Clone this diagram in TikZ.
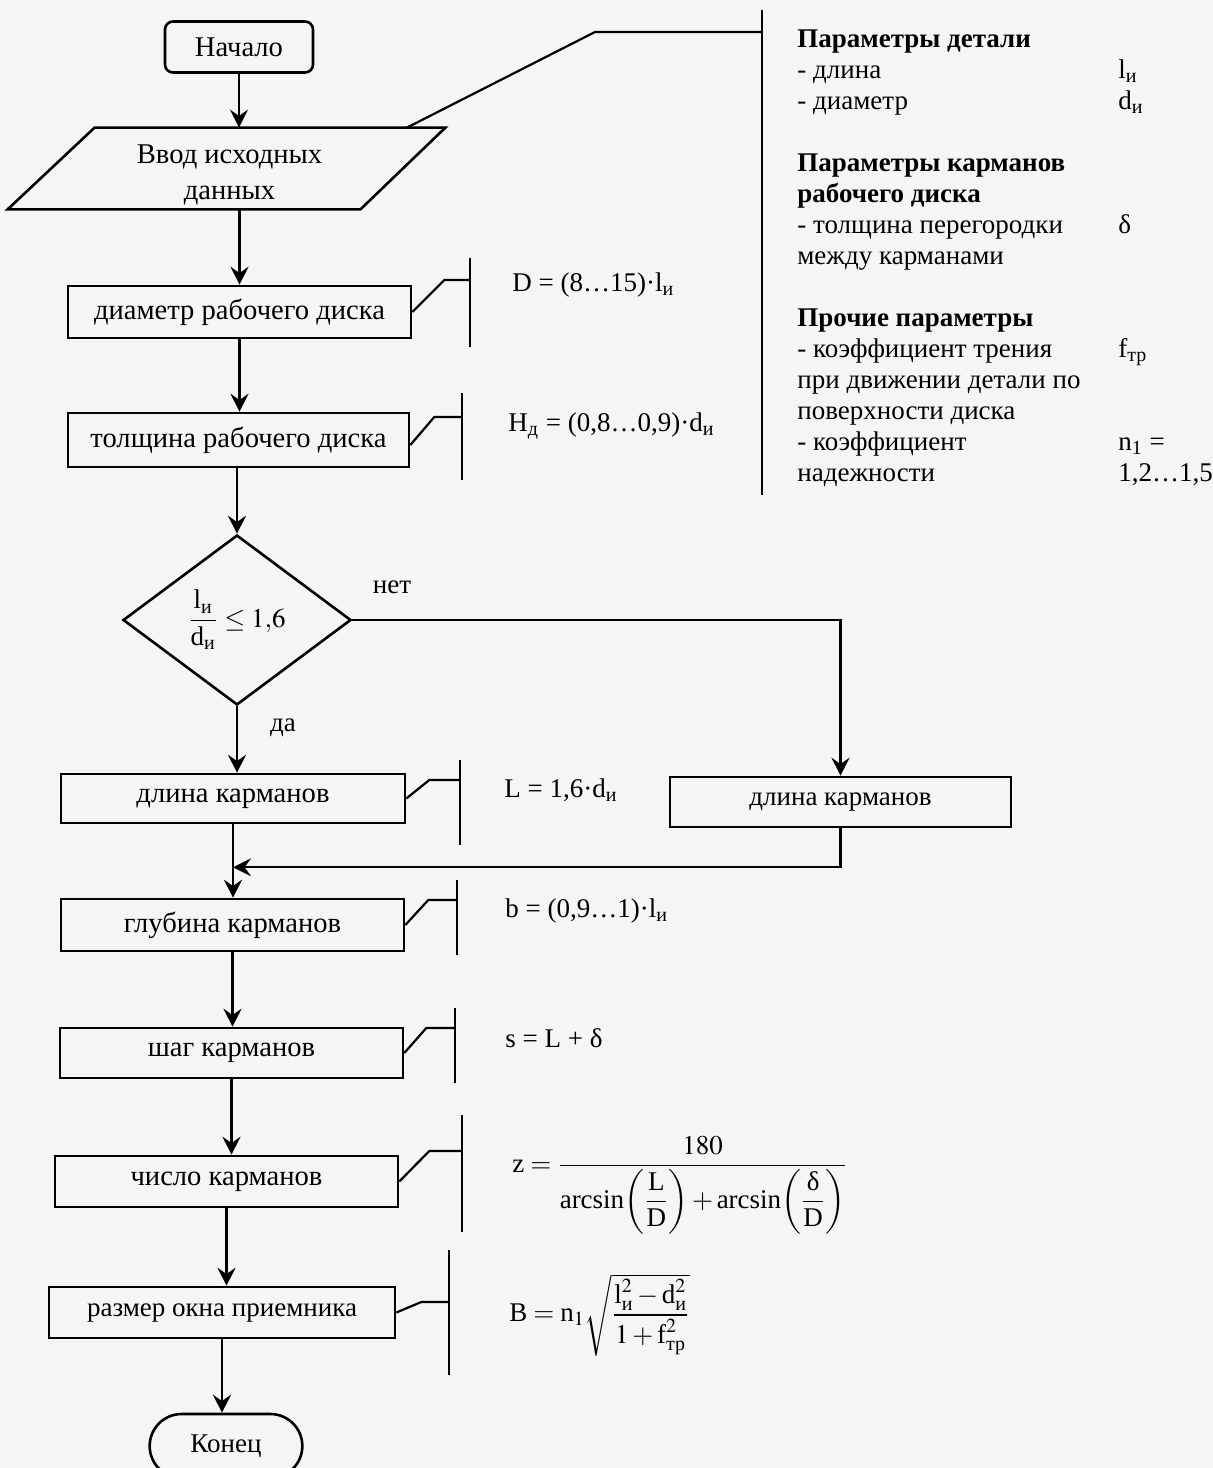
\documentclass[tikz,border=0pt]{standalone}
\usepackage{amsmath}
\usepackage{mathptmx}
\usepackage[no-math]{fontspec}
\setmainfont{Liberation Serif}
\usetikzlibrary{arrows.meta,shapes.geometric,shapes.misc,calc}

\newcommand{\lo}[1]{\textsubscript{#1}}
\newcommand{\bodysize}{\fontsize{13.5}{15.5}\selectfont}
\newcommand{\boxsize}{\fontsize{14.3}{16.5}\selectfont}

\tikzset{
  flow/.style={line width=1.1pt},
  arr/.style={flow,-{Stealth[length=9pt,width=9pt,inset=3.2pt]}},
  proc/.style={draw,line width=1.3pt,rectangle,inner sep=0pt,font=\boxsize},
  lbl/.style={inner sep=0pt},
  note/.style={line width=1.1pt},
  formula/.style={anchor=west,inner sep=0pt},
}

\begin{document}
\begin{tikzpicture}[x=0.5pt,y=-0.5pt,every node/.style={font=\bodysize}]
\fill[black!4] (0,0) rectangle (1213,1468);
\useasboundingbox (0,0) rectangle (1213,1468);

% --- main flow column ---
\node[draw,rounded corners=4pt,line width=1.3pt,minimum width=74pt,minimum height=25.5pt,font=\boxsize] (start) at (239,47) {Начало};

\node[lbl,minimum width=135pt,minimum height=40.5pt] (input) at (226.5,168.5) {};
\draw[line width=1.3pt] ($(input.north west)+(3.5,0)$) -- ($(input.north east)+(83.5,0)$)
  -- ($(input.south east)+(-1.5,0)$) -- ($(input.south west)+(-83.5,0)$) -- cycle;
\node[lbl,align=center,font=\boxsize] (inputText) at ($(input.center)+(3,6)$) {Ввод исходных\\[1.5pt]данных};

\node[proc,minimum width=171.5pt,minimum height=26pt] (dia) at (239.5,312) {диаметр рабочего диска};
\node[proc,minimum width=170.5pt,minimum height=27pt] (thick) at (238.5,440) {толщина рабочего диска};

\node[draw,diamond,line width=1.3pt,inner sep=0pt,minimum width=114pt,minimum height=85pt] (dec) at (237,620)
  {$\dfrac{\text{l}_\text{и}}{\text{d}_\text{и}}\le 1{,}6$};

\node[proc,minimum width=172pt,minimum height=24.5pt] (len) at (233,798.5) {длина карманов};
\node[proc,minimum width=170.5pt,minimum height=25pt,font=\bodysize] (lenR) at (840.5,802) {длина карманов};
\node[proc,minimum width=171.5pt,minimum height=26pt] (depth) at (232.5,925) {глубина карманов};
\node[proc,minimum width=171.5pt,minimum height=25pt] (pitch) at (231.5,1053) {шаг карманов};
\node[proc,minimum width=171.5pt,minimum height=25.5pt] (num) at (226.5,1181.5) {число карманов};
\node[proc,minimum width=173pt,minimum height=25.5pt,font=\bodysize] (win) at (222,1312.5) {размер окна приемника};
\node[draw,rounded rectangle,line width=1.3pt,minimum width=83pt,minimum height=32pt,font=\bodysize] (stop) at (226,1446) {Конец};

\node[lbl] (yes) at (283,728) {да};
\node[lbl] (no) at (392,587) {нет};

% --- connectors ---
\draw[arr] (start.south) -- (start.south |- input.north);
\draw[arr] (dia.north |- input.south) -- (dia.north);
\draw[arr] (dia.south) -- (dia.south |- thick.north);
\draw[arr] (dec.north |- thick.south) -- (dec.north);
\draw[arr] (dec.south) -- (dec.south |- len.north);
\draw[arr] (dec.east) -| (lenR.north);
\coordinate (merge) at ($(len.south)+(0,43)$);
\draw[arr] (lenR.south) |- (merge);
\draw[arr] (len.south) -- (len.south |- depth.north);
\draw[arr] (depth.south) -- (depth.south |- pitch.north);
\draw[arr] (pitch.south) -- (pitch.south |- num.north);
\draw[arr] (num.south) -- (num.south |- win.north);
\draw[arr] (win.south) -- (win.south |- stop.north);

% --- comment brackets ---
\coordinate (inT) at (762,10);   \coordinate (inB) at (762,495);
\draw[note] (inT) -- (inB);
\draw[note] ($(input.north)+(180.5,0)$) -- (595,32) -- (inT |- 0,32);

\coordinate (diaT) at (470,258); \coordinate (diaB) at (470,347);
\draw[note] (diaT) -- (diaB);
\draw[note] (dia.east) -- ++(32,-32) coordinate (k1) -- (k1 -| diaT);

\coordinate (thT) at (462,393); \coordinate (thB) at (462,480);
\draw[note] (thT) -- (thB);
\draw[note] ($(thick.east)+(0,5)$) -- ++(24,-28) coordinate (k2) -- (k2 -| thT);

\coordinate (lnT) at (460,760); \coordinate (lnB) at (460,845);
\draw[note] (lnT) -- (lnB);
\draw[note] (len.east) -- ++(23,-18.5) coordinate (k3) -- (k3 -| lnT);

\coordinate (dpT) at (457,880); \coordinate (dpB) at (457,955);
\draw[note] (dpT) -- (dpB);
\draw[note] (depth.east) -- ++(23,-25) coordinate (k4) -- (k4 -| dpT);

\coordinate (stT) at (455,1008); \coordinate (stB) at (455,1083);
\draw[note] (stT) -- (stB);
\draw[note] (pitch.east) -- ++(22,-25) coordinate (k5) -- (k5 -| stT);

\coordinate (nmT) at (462,1115); \coordinate (nmB) at (462,1232);
\draw[note] (nmT) -- (nmB);
\draw[note] (num.east) -- ++(30,-30.5) coordinate (k6) -- (k6 -| nmT);

\coordinate (wnT) at (449,1250); \coordinate (wnB) at (449,1375);
\draw[note] (wnT) -- (wnB);
\draw[note] (win.east) -- ++(25,-10.5) coordinate (k7) -- (k7 -| wnT);

% --- formulas ---
\node[formula] (fD) at (512,285) {D = (8…15)·l\lo{и}};
\node[formula] (fH) at (508,426) {H\lo{д} = (0,8…0,9)·d\lo{и}};
\node[formula] (fL) at (504,790) {L = 1,6·d\lo{и}};
\node[formula] (fb) at (505,911) {b = (0,9…1)·l\lo{и}};
\node[formula] (fs) at (505,1038) {s = L + δ};
\node[formula] (fz) at (512,1185)
  {$\text{z} = \dfrac{180}{\text{arcsin}{\left(\dfrac{\text{L}}{\text{D}}\right)}+\text{arcsin}{\left(\dfrac{\text{δ}}{\text{D}}\right)}}$};
\node[formula] (fB) at (509,1315)
  {$\text{B} = \text{n}_1\sqrt{\dfrac{\text{l}_\text{и}^2 - \text{d}_\text{и}^2}{1 + \text{f}_\text{тр}^2}}$};

% --- parameter list ---
\node[anchor=north west,inner sep=0pt] (params) at (797,25) {%
\begin{tabular}{@{}p{160.5pt}@{}l@{}}
\textbf{Параметры детали} & \\
- длина & l\lo{и}\\
- диаметр & d\lo{и}\\
 & \\
\textbf{Параметры карманов} & \\
\textbf{рабочего диска} & \\
- толщина перегородки & δ\\
между карманами & \\
 & \\
\textbf{Прочие параметры} & \\
- коэффициент трения & f\lo{тр}\\
при движении детали по & \\
поверхности диска & \\
- коэффициент & n\lo{1} =\\
надежности & 1,2…1,5
\end{tabular}};
\end{tikzpicture}
\end{document}
